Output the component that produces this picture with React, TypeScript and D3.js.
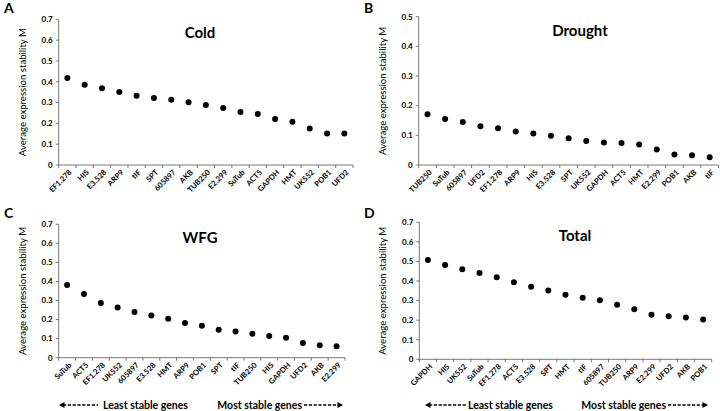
import React from "react";
import * as d3 from "d3";

const coldGenes = ["EF1.278","HIS","E3.528","ARP9","tIF","SPT","605897","AKB","TUB250","E2.299","SuTub","ACT5","GAPDH","HMT","UK552","POB1","UFD2"];
const coldValues = [0.418,0.385,0.369,0.351,0.333,0.322,0.314,0.301,0.288,0.274,0.255,0.245,0.221,0.208,0.175,0.151,0.151];

const droughtGenes = ["TUB250","SuTub","605897","UFD2","EF1.278","ARP9","HIS","E3.528","SPT","UK552","GAPDH","ACT5","HMT","E2.299","POB1","AKB","tIF"];
const droughtValues = [0.171,0.155,0.145,0.131,0.124,0.113,0.106,0.099,0.090,0.081,0.076,0.074,0.069,0.052,0.035,0.033,0.026];

const wfgGenes = ["SuTub","ACT5","EF1.278","UK552","605897","E3.528","HMT","ARP9","POB1","SPT","tIF","TUB250","HIS","GAPDH","UFD2","AKB","E2.299"];
const wfgValues = [0.382,0.334,0.287,0.264,0.240,0.222,0.205,0.182,0.168,0.147,0.137,0.126,0.114,0.105,0.077,0.065,0.060];

const totalGenes = ["GAPDH","HIS","UK552","SuTub","EF1.278","ACT5","E3.528","SPT","HMT","tIF","605897","TUB250","ARP9","E2.299","UFD2","AKB","POB1"];
const totalValues = [0.508,0.482,0.460,0.441,0.419,0.394,0.371,0.351,0.330,0.315,0.302,0.279,0.256,0.227,0.220,0.213,0.203];

const yTicks07 = [0, 0.1, 0.2, 0.3, 0.4, 0.5, 0.6, 0.7];
const yTicks05 = [0, 0.1, 0.2, 0.3, 0.4, 0.5];

const FONT = "Lato, 'Open Sans', sans-serif";

type PanelProps = {
  letter: string;
  title: string;
  genes: string[];
  values: number[];
  ticks: number[];
  ox: number;
  oy: number;
  left: number;
  right: number;
  top: number;
  bottom: number;
  titleX: number;
  arrows: boolean;
  arrowPos?: number[];
};

function Panel(p: PanelProps) {
  const x = d3.scaleBand<string>().domain(p.genes).range([p.left, p.right]);
  const yMax = p.ticks[p.ticks.length - 1];
  const y = d3.scaleLinear().domain([0, yMax]).range([p.bottom, p.top]);
  const boundaries = d3.range(p.genes.length + 1).map((i) => p.left + i * x.step());
  const ay = 200;
  return (
    <g transform={`translate(${p.ox},${p.oy})`} fontFamily={FONT}>
      <text x={4} y={13} fontSize={14} fontWeight={700}>{p.letter}</text>
      <text x={p.titleX} y={(p.top + 19)} fontSize={15} fontWeight={700} textAnchor="middle">{p.title}</text>
      <text transform={`translate(${p.left - 33},${(p.top + p.bottom) / 2}) rotate(-90)`} fontSize={9.6} textAnchor="middle">Average expression stability M</text>
      <line x1={p.left} x2={p.left} y1={p.top} y2={p.bottom} stroke="#555" strokeWidth={0.8} />
      <line x1={p.left} x2={p.right} y1={p.bottom} y2={p.bottom} stroke="#555" strokeWidth={0.8} />
      {p.ticks.map((t) => (
        <g key={t}>
          <line x1={p.left - 3} x2={p.left} y1={y(t)} y2={y(t)} stroke="#555" strokeWidth={0.8} />
          <text x={p.left - 6} y={y(t)} dy="0.35em" fontSize={8} fontWeight={700} textAnchor="end">{t === 0 ? "0" : t.toFixed(1)}</text>
        </g>
      ))}
      {boundaries.map((bx, i) => (
        <line key={i} x1={bx} x2={bx} y1={p.bottom} y2={p.bottom + 3} stroke="#555" strokeWidth={0.8} />
      ))}
      {p.genes.map((g, i) => {
        const cx = (x(g) as number) + x.bandwidth() / 2;
        return (
          <g key={g}>
            <circle cx={cx} cy={y(p.values[i])} r={3} fill="#000" />
            <text transform={`translate(${cx + 3},${p.bottom + 6}) rotate(-45)`} fontSize={7.6} fontWeight={700} textAnchor="end" dy="0.35em">{g}</text>
          </g>
        );
      })}
      {p.arrows && p.arrowPos && (
        <g fontSize={10.5} fontWeight={700}>
          <line x1={p.arrowPos[0] + 4} x2={p.arrowPos[1]} y1={ay} y2={ay} stroke="#000" strokeWidth={1.5} strokeDasharray="3.2,1.6" />
          <path d={`M${p.arrowPos[0]},${ay} l5.5,-3 l0,6 z`} fill="#000" />
          <text x={p.arrowPos[2]} y={ay} dy="0.35em">Least stable genes</text>
          <text x={p.arrowPos[3]} y={ay} dy="0.35em" textAnchor="end">Most stable genes</text>
          <line x1={p.arrowPos[4]} x2={p.arrowPos[5] - 4} y1={ay} y2={ay} stroke="#000" strokeWidth={1.5} strokeDasharray="3.2,1.6" />
          <path d={`M${p.arrowPos[5]},${ay} l-5.5,-3 l0,6 z`} fill="#000" />
        </g>
      )}
    </g>
  );
}

export default function App() {
  return (
    <svg width={720} height={411} style={{ position: "absolute", left: 0, top: 0, background: "#fff" }}>
      <Panel letter="A" title="Cold" genes={coldGenes} values={coldValues} ticks={yTicks07}
        ox={0} oy={0} left={58.7} right={353} top={19.3} bottom={165} titleX={200} arrows={false} />
      <Panel letter="B" title="Drought" genes={droughtGenes} values={droughtValues} ticks={yTicks05}
        ox={360} oy={0} left={58.7} right={358.5} top={16.7} bottom={165} titleX={220} arrows={false} />
      <Panel letter="C" title="WFG" genes={wfgGenes} values={wfgValues} ticks={yTicks07}
        ox={0} oy={205} left={58.7} right={345} top={19.3} bottom={152.7} titleX={200} arrows={true}
        arrowPos={[59, 98, 103, 302, 304, 343]} />
      <Panel letter="D" title="Total" genes={totalGenes} values={totalValues} ticks={yTicks07}
        ox={360} oy={205} left={59.3} right={351.7} top={17.3} bottom={154.3} titleX={215} arrows={true}
        arrowPos={[65, 106, 108, 306, 308, 348]} />
    </svg>
  );
}
